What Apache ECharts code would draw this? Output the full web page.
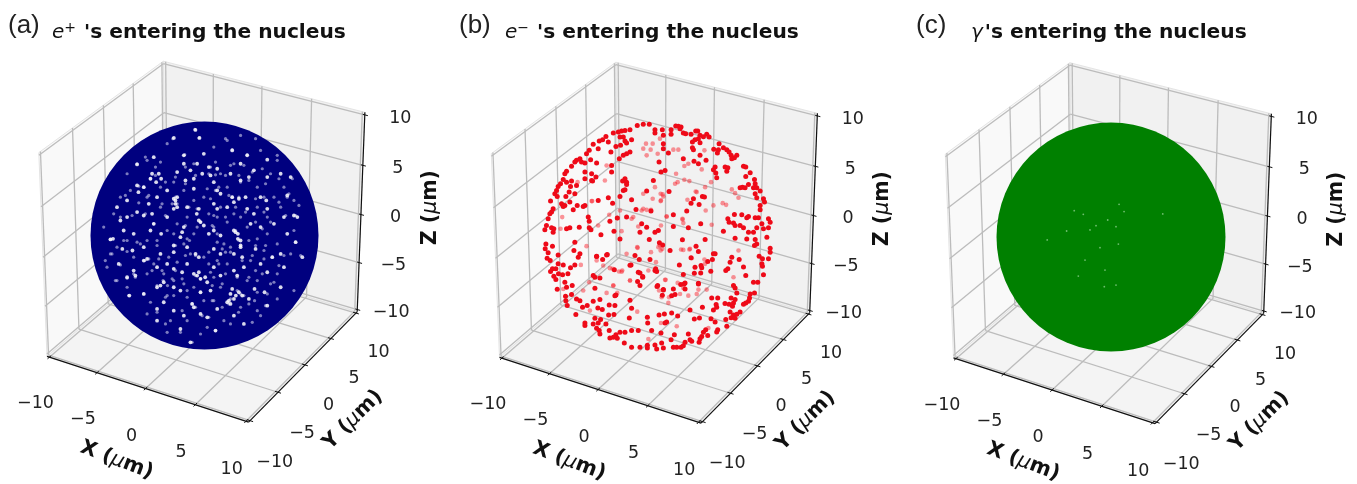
<!DOCTYPE html>
<html><head><meta charset="utf-8">
<style>html,body{margin:0;padding:0;background:#fff}#c{width:1357px;height:484px;filter:blur(0.35px)}</style>
<script src="https://cdn.jsdelivr.net/npm/echarts@6/dist/echarts.min.js"></script>
</head><body><div id="c"></div>
<script>
// ---- values (view-plane offsets from the sphere centre, in µm) ----
const tickValues = [-10, -5, 0, 5, 10];
const sphereCentre = [[0, 0]];
const panelTags = ['(a)', '(b)', '(c)'];
const panelTitles = ['{i|e}{s|+}{b|\'s entering the nucleus}', '{i|e}{s|−}{b|\'s entering the nucleus}', '{i|γ}{b|\'s entering the nucleus}'];

const positronGaps = [[-2.7,8.6],[-.44,8.6],[-.8,9.3],[2.44,7.5],[-1.82,7.06],[-.06,7.2],[3.76,7.06],[-4.47,6.9],[-5.94,6.26],[-1.82,6.32],[-.65,6.32],[3.18,6.32],[5.53,6.68],[.38,6.03],[1.12,5.88],[-1.24,5.74],[-4.62,5.44],[-4.03,5.44],[-3.82,5],[-4.26,4.7],[-4.76,5],[-2.41,5.59],[-.2,5.44],[.53,5.29],[2.29,5.44],[4.35,5.74],[5.53,5.15],[6.71,5.44],[-1.68,4.85],[-.94,5],[.82,4.7],[3.18,4.85],[3.91,5.15],[7.59,5.15],[-5.94,4.41],[-5.35,4.26],[-5.82,3.82],[-3.29,3.97],[-.94,4.12],[1.12,3.97],[1.41,3.68],[2.44,3.38],[3.03,3.24],[3.62,3.38],[4.94,3.38],[5.44,3.09],[7.29,3.53],[-2.71,3.24],[-2.41,3.38],[-2.56,2.79],[-4.18,3.38],[-6.82,3.09],[-7.71,2.5],[-4.91,2.79],[-4.62,1.91],[-5.35,1.76],[-5.94,2.06],[-2.71,2.35],[-1.53,2.5],[-.5,2.35],[-.68,1.91],[.82,2.79],[1.12,2.35],[2,2.5],[2.59,2.94],[3.76,2.35],[4.35,1.91],[5.53,2.35],[7,1.62],[7.88,1.76],[8.18,1.62],[-7.41,1.32],[-6.82,1.62],[-3.29,1.62],[-.35,1.18],[-.06,.88],[-.5,1.32],[-1.82,.74],[-1.97,.29],[-2.12,-.15],[-4.47,1.03],[-4.76,.44],[-3.82,.15],[-6.24,.15],[-7.12,.44],[-8.29,-.35],[-8.06,-.29],[.82,.44],[.38,.15],[2.59,.44],[2.94,.15],[3.18,-.44],[4.94,.74],[6.12,1.03],[7.29,.15],[8.03,-.59],[4.06,1.03],[1.41,0],[-7.24,-1.18],[-6.35,-1.32],[-5.35,-1.03],[-5.06,-2.06],[-5.35,-2.21],[-3.88,-1.62],[-2.71,-.88],[-2.71,-1.47],[-1.53,-1.03],[-.79,-1.62],[-.5,-1.91],[.82,-1.18],[1.41,-1.62],[2.59,-1.62],[3.18,-.88],[3.32,-1.91],[4.5,-1.18],[5.97,-1.91],[6.71,-1.62],[8.62,-1.91],[-7.56,-2.5],[-6.24,-3.09],[-6.09,-3.53],[-6.82,-3.68],[-4.18,-2.79],[-3.29,-2.5],[-2.71,-2.94],[-1.53,-2.5],[-1.97,-3.24],[-.65,-3.53],[-.94,-3.38],[-.35,-3.82],[.82,-2.79],[1.41,-3.53],[2.59,-3.09],[2.88,-3.53],[3.47,-2.79],[4.94,-2.5],[5.53,-3.24],[7,-2.79],[-4.18,-4.56],[-3.59,-4.12],[-3.88,-4.41],[-2.71,-4.56],[-2.12,-4.85],[-.35,-5],[.53,-4.85],[3.03,-5],[3.32,-5.29],[2.44,-4.71],[4.41,-4.71],[5.29,-5],[6.71,-4.56],[-5.35,-5.15],[-6.62,-5.29],[2.15,-5.74],[2.29,-6.03],[3.91,-5.59],[-.94,-6.32],[-.35,-6.91],[.24,-7.21],[-1.09,-6.03],[-4.18,-6.47],[-3.59,-5.88],[-2.71,-6.62],[1.12,-6.47],[5.53,-6.18],[-1.82,-7.06],[2.59,-7.06],[.97,-8.38],[-1.24,-9.41],[-2.12,-8.24],[3.47,-7.79],[-4.18,-7.5],
[-2.56,3.09],[-2.41,2.5],[2.74,.29],[2.94,-.29],[3.18,-1.03],[-.5,-3.24],[.06,-3.68],[.24,-4.12],[2.29,-5.15],[2.76,-5.29],[2,-5.88],[2.59,-5.59]];

const positronFaintGaps = [[-2.79,8.53],[-.5,8.59],[-.85,9.35],[-1.74,7.12],[-1.68,6.03],[-.94,6.32],[-5.94,6.32],[-4.32,5.29],[-4.76,5],[-5.79,4.35],[-5.35,4.26],[-2.56,3.38],[-2.41,2.79],[-2.85,2.79],[-4.91,3.53],[-5.21,1.91],[-3.74,2.79],[-6.38,1.76],[-7.41,1.62],[-1.68,.88],[-.35,1.18],[-4.47,1.03],[-3.44,1.76],[-1.38,2.5],[-.65,2.35],[-6.97,3.53],[-5.79,2.88],[-2.56,5.15],[-3.44,4.71],[-4.32,6.03],[-5.21,6.91],[-3.88,6.47],[-.79,5.29],[-1.68,4.56],
[2.44,7.56],[3.76,7.12],[1.85,8.53],[.97,6.47],[.53,6.03],[.38,5.44],[.97,5.35],[3.03,5.29],[4.21,5.59],[5.09,5.88],[5.82,5.44],[6.56,5],[7.44,3.68],[7.29,3.38],[8.32,2.65],[8.03,1.76],[5.24,3.38],[4.5,3.24],[3.91,4.85],[3.18,4.71],[2.44,3.38],[3.03,3.38],[2.15,3.53],[.97,3.97],[1.26,4.26],[.53,3.24],[1.41,2.5],[2.74,2.5],[3.62,2.06],[5.24,2.06],[5.82,1.18],[7.15,1.76],[4.5,1.18],[2.74,.44],[.82,1.76],[.68,.88],[2,1.18],[3.76,.74],[5.09,.59],[6.56,2.94],[6.41,7.06],[4.5,8.53],[3.18,8.82],[5.38,4.56],[7.74,5],[1.85,5.29],[2.29,6.18],[3.47,6.18],
[-8.29,-.35],[-7.12,-.44],[-5.65,-.74],[-4.18,-.88],[-2.56,-.88],[-1.32,-.44],[-5.26,-2.21],[-4.91,-2.06],[-7.41,-2.59],[-6.82,-1.41],[-6.24,-3.38],[-6.09,-3.68],[-6.82,-3.76],[-3.74,-3.09],[-2.56,-3.09],[-3.65,-3.97],[-2.85,-3.82],[-4.18,-4.41],[-3.26,-4.41],[-1.97,-3.82],[-.79,-3.53],[-.35,-3.82],[-1.09,-6.03],[-.79,-6.32],[-2.71,-5.29],[-3.44,-5.44],[-4.18,-6.76],[-3.44,-7.79],[-1.53,-7.5],[-6.68,-5.29],[-5.35,-5.15],[-8.15,-1.62],[-8.74,-2.21],[-7.85,-3.97],[-1.68,-1.76],[-3.15,-1.91],[-4.03,-2.06],[-2.41,-2.35],[-.79,-1.76],[-4.62,-3.09],[-1.53,-4.85],[-.35,-5],[-1.97,-6.62],[-.21,-7.06],[-2.12,-8.53],[-1.09,-9.41],[-3.29,-8.53],
[8.03,-.59],[.38,-1.47],[1.56,-1.18],[2.29,-1.47],[3.03,-.44],[4.21,-1.76],[5.97,-1.91],[5.24,-2.06],[3.32,-2.21],[2.88,-3.68],[3.18,-5.15],[2.88,-4.85],[3.47,-5.29],[2.29,-5.59],[2.15,-6.03],[.82,-3.68],[1.26,-2.5],[.53,-3.24],[1.85,-3.38],[3.91,-3.68],[5.09,-3.38],[6.56,-2.65],[7.88,-4.85],[.38,-7.21],[.97,-8.38],[2.29,-7.79],[4.21,-7.65],[.68,-4.41],[1.56,-4.26],[3.91,-6.03],[5.38,-6.18],[3,-6.76],[1.56,-6.32],[.68,-5.74],[4.65,-5],[6.12,-4.12],[7,-1.76],[8.47,-1.76],[5.38,-.88],[4.5,-.88],[6.41,-5.59],[4.94,-7.06],[1.85,-1.47],[1.12,-.59],
[.82,.74],[1.12,.15],[-.65,.74],[-.94,.15],[-1.53,-.29],[-1.82,-.74],[-1.24,-1.62],[-.06,-1.91],[.38,-2.5],[1.12,-2.21],[2,-2.5],[2.29,-1.03],[1.71,-.74],[3.91,-.44],[4.65,-.29],[5.53,.15],[6.41,-.74],[5.24,-1.32],[4.06,-2.21],[4.5,-3.09],[3.76,-3.97],[4.65,-3.97],[5.82,-4.26],[6.41,-3.38],[7.59,-1.62],[7.88,.44],[6.71,2.5],[5.53,1.62],[4.65,2.5],[3.18,1.62],[2.59,1.91],[1.85,1.62],[1.12,1.62],[.38,1.91],[-1.53,1.62],[-2.41,1.03],[-3.29,.44],[-2.71,.15],[-4.18,-.44],[-5.06,-.44],[-5.94,-.59],[-6.82,-.44],[-7.71,-1.03],[-8.29,-1.62],[-6.24,-1.91],[-4.47,-2.5],[-5.06,-3.38],[-3.59,-3.38],[-2.71,-3.97],[-1.82,-4.26],[-.94,-4.56],[-.06,-5.74],[.82,-5.74],[-1.53,-5.44],[-3.29,-5.29],[-4.76,-5.88],[1.41,-4.56],[4.41,-5.74],[5.53,-5.15],[4.65,-6.62],[3.18,-6.32],[.24,-8.09],[1.71,-7.5],[-.35,-8.68],[-3,-7.5],[-5.06,-6.91],[-6.82,-4.56],[-7.71,-3.97],[-8.59,-2.79],[-8.88,.74],[-8,1.91],[-7.41,3.38],[-6.53,3.97],[-5.06,3.38],[-3.88,2.5],[-3.88,4.26],[-2.71,4.71],[-1.82,3.97],[-.06,3.38],[-.94,3.09],[.24,4.12],[2,4.26],[1.41,5.44],[2.59,6.32],[4.65,4.26],[6.12,3.38],[7.88,3.09],[7,4.26],[6.41,6.62],[4.94,7.5],[2,8.38],[.82,7.79],[-3.29,8.09],[-5.06,6.62],[-6.82,5.44]];

const electronsFront = [[-1.74,9.79],[-1.21,9.88],[-.68,9.88],[-2.38,9.41],[-2.82,9.35],[-3.12,9.29],[-3.41,9.21],[-3.85,9.12],[-4.5,8.82],[-4.79,8.53],[-5.09,8.41],[-5.62,8.12],[-5.97,7.59],[-5.18,7.74],[-6.21,7.29],[-6.79,6.85],[-7.09,6.71],[-7.24,6.56],[-6.65,6.56],[-6.35,6.47],[-5.85,6.76],[-5.32,6.47],[-7.53,6.18],[-7.97,5.74],[-8.12,5.53],[-6.35,5.68],[-8.26,5.03],[-8.5,4.65],[-8.71,4.41],[-8.85,4.06],[-9,3.76],[-7.97,4.79],[-7.53,4.88],[-7.62,4.41],[-7.74,3.91],[-8.03,3.53],[-8.79,3.53],[-9.38,3.12],[-7.24,3.76],[-7.09,4.5],[-6.35,5.09],[-5.68,4.88],[-5.38,5.24],[-5.76,5.53],[-4,6.26],[-4,5.68],[-3.32,6.85],[-3.21,8.03],[-3.62,7.94],[-4.29,8.32],[-3.26,8.76],[-2.97,8.76],[-2.82,8.41],[-2.24,8.53],[-2.68,8.24],[-2.38,7.44],[-2.68,7.29],[-2.97,7.15],[-4.06,7.44],[-2.82,5.09],[-3.03,4.88],[-2.68,4.79],[-2.68,4.59],[-3.26,3.53],[-2.97,4.06],[-4.29,3.41],[-5.18,3.18],[-3.91,2.94],[-2.24,3.24],[-.91,4],[-.32,4.94],[-1.85,2.38],[-.53,2.24],[-3.5,1.62],[-2.68,1.71],[-1.35,1.12],[-.91,.82],[-9.15,2.44],[-9.29,2.15],[-9.44,2],[-9.59,1.56],[-9.74,.97],[-9.88,.59],[-9.29,.76],[-9.09,.68],[-9.15,.38],[-7.97,.68],[-7.68,.76],[-6.85,.82],[-5.97,.76],[-5.82,.59],[-6.06,1.71],[-5.97,1.35],[-4.15,1.35],[-3.79,.47],[-6.35,2.74],[-6.5,2.65],[-7.03,2.74],[-7.38,2.35],[-8.12,2.74],[-8.41,2.88],[-8.26,2.65],[-7.68,3.03],
[1.65,9.74],[1.88,9.71],[2.12,9.65],[2.03,9.5],[1.24,9.41],[.56,8.91],[1.24,9],[-.18,9.41],[-.18,9.12],[.47,9.41],[2.32,9.12],[2.53,9.06],[3,9],[3.41,9.29],[3.59,9.29],[3.79,8.91],[4.09,8.79],[4.38,9],[4.59,8.76],[3.65,8.62],[3.35,8.53],[3.12,8.32],[3.79,8.26],[5.47,8.18],[5.85,7.82],[6.15,7.65],[5,7.68],[5.41,7.65],[6.35,7.44],[6.53,7.15],[7.03,7.15],[6.82,6.94],[6.59,6.85],[3.12,7.82],[3.21,7.65],[3.79,7.15],[5.32,7.35],[.56,8.18],[.56,7.74],[1,7.35],[2.32,6.85],[3.26,6.62],[3.65,6.41],[4.32,6.71],[.18,6.56],[5.12,6.12],[4.97,5.88],[6,6.12],[6.24,6.06],[6.15,5.74],[5.18,5.59],[5.26,5.18],[7.62,6.18],[7.82,6.12],[8.21,5.62],[7.82,5.29],[8.59,5.03],[8.65,4.65],[8.06,4.59],[7.53,4.35],[7.32,4.29],[7.76,4.29],[8.5,4.29],[8.79,4.29],[9.09,4],[8.65,3.76],[8.79,3.41],[9.38,3.32],[9.47,3.03],[9.09,2.74],[9.09,2.35],[.35,5.68],[.71,5.82],[1.06,3.97],[3.21,3.32],[3,2.94],[3.71,2.82],[4,3.53],[4.18,3.47],[2.62,2.24],[1.44,1.91],[6.24,1.56],[6.35,1.26],[6.82,1.94],[7.47,1.91],[8.06,1.76],[7.91,1.65],[8.65,1.65],[8.94,1.65],[9.82,1.56],[9.97,1.26],[9.24,1.12],[9.82,.76],[6.74,1.18],[6.88,.97],[7.32,.97],[7.62,.76],[8.06,.38],[8.5,.38],[8.79,.76],[9.38,.68],[5.85,.47],[3.85,1.12],[2.76,.76],[1.44,.88],[.12,.53],[-.18,.38],
[-9.79,-.65],[-9.21,-.85],[-9.85,-1.09],[-9.59,-1.44],[-9.68,-1.91],[-9.41,-2.12],[-8.71,-1.62],[-7.24,-.5],[-7.32,-1.24],[-6.79,-1.53],[-6.94,-1.82],[-5.32,-1.74],[-4.44,-1.62],[-4.79,-2.03],[-3.26,-.21],[-.68,-.26],[-8.71,-2.41],[-8.26,-2.5],[-7.24,-2.5],[-7.62,-2.76],[-9.21,-2.85],[-9.38,-3.09],[-8.91,-2.85],[-8.68,-3.29],[-8.32,-3.38],[-7.85,-3.29],[-9.09,-3.5],[-8.91,-3.79],[-5.62,-3.44],[-5.47,-3.59],[-5.03,-3.65],[-8.12,-4.03],[-7.97,-4.47],[-8.79,-4.65],[-7.47,-4.32],[-5.47,-4.56],[-8.06,-5.26],[-7.53,-5.12],[-7.09,-5.5],[-5.03,-5.56],[-8.03,-5.65],[-7.91,-6.09],[-6.79,-5.65],[-5.62,-5.71],[-3.62,-5.15],[-3.71,-5.21],[-2.38,-5.62],[-4.21,-6.03],[-3.71,-6.09],[-6.56,-6.24],[-6.15,-6.09],[-5.21,-6.29],[-4.82,-6.44],[-2.24,-6.32],[-4.26,-6.91],[-7.15,-6.88],[-5.47,-7.21],[-4.97,-7.32],[-3.79,-6.88],[-2.44,-7.18],[-.85,-7.12],[-6.35,-7.62],[-6.35,-7.85],[-5.62,-7.71],[-5.18,-7.62],[-4.5,-7.71],[-5.32,-8.09],[-5.09,-8.29],[-5.03,-8.59],[-4.21,-8.29],[-3.26,-8.44],[-2.82,-8.44],[-2.24,-8.29],[-1.65,-8.29],[-.82,-7.62],[-.47,-8.29],[-3.62,-8.65],[-3.85,-8.88],[-3.5,-8.97],[-4.15,-8.94],[-2.88,-9.38],[-2.24,-9.76],[-1.5,-9.76],[-.85,-9.59],[-.85,-9.82],[-2.29,-2.5],[-2.38,-2.53],[-1.5,-3.21],[-1.71,-3.97],[-1.5,-4.32],[-1.26,-3.59],[-1.94,-1.68],[-1.56,-2.03],[-.62,-2.03],
[2.24,-.29],[4.24,-.26],[6.88,-.15],[7.91,-.21],[8.65,-.26],[9.68,-.06],[9.97,-1.03],[9.97,-1.38],[8.59,-.79],[8.79,-.65],[1.15,-1.24],[3.44,-.85],[3.65,-1.32],[3,-1.88],[4.97,-1.53],[4.88,-2.03],[4.47,-2.21],[6.59,-1.82],[6.44,-2.26],[7.24,-2.03],[9,-1.74],[9.29,-1.97],[9.82,-1.97],[9.24,-2.41],[9.29,-2.62],[3.35,-2.71],[3.88,-2.56],[3.85,-3.21],[3.29,-3.24],[2.32,-3.35],[6.24,-2.85],[6.06,-3],[7.62,-2.68],[7.82,-3.44],[9.38,-3.38],[8.5,-4.03],[8.88,-4.03],[6.74,-4.32],[6.88,-4.53],[-.18,-3],[-.03,-3.09],[3.65,-4.18],[2.47,-4.09],[.06,-4.32],[.56,-4.71],[1.59,-5.12],[.47,-5.18],[4.82,-5.41],[5.35,-5.41],[6.53,-5.41],[7.03,-4.97],[8.59,-4.97],[8.21,-5.06],[8.15,-5.41],[8.06,-5.71],[7.82,-5.85],[7.62,-5.97],[6.88,-5.56],[6.74,-5.85],[6.65,-6.15],[6.35,-5.97],[5.99,-5.91],[5.21,-5.99],[5.26,-6.24],[4,-6.24],[4.97,-6.47],[6.44,-6.65],[6.74,-6.91],[7.03,-6.85],[7.32,-6.65],[6.53,-7.15],[6.88,-7.21],[6.06,-7.32],[4.76,-7.24],[5.12,-7.53],[2.91,-6.47],[3.74,-7.18],[3.29,-7.26],[1.82,-7],[1.29,-6.74],[.18,-6.91],[.65,-6.82],[.85,-7.53],[.71,-7.62],[6.15,-7.9],[5.35,-8.21],[5.26,-8.41],[4.29,-8.21],[4.09,-8.44],[4.47,-8.73],[3.94,-8.82],[3.79,-9],[3.71,-9.32],[2.91,-9.09],[3.06,-9.24],[2.47,-9.32],[2.32,-9.62],[2.12,-9.76],[1.74,-9.76],[1.44,-9.76],[1.53,-8.65],[2.76,-8.59],[.35,-8.5],[.41,-9.38],[1.24,-9.09],[-.18,-9.56],[-.03,-9.91],[.56,-9.82],
[-1.5,.38],[.21,-.56],[.5,-.74],[5.12,-1.53],[1.97,-2.5],[3.94,-2.76],[4.74,-3.06],[-4.94,.15],[-5.32,-1.76],[-4.38,-1.59],[-3.76,-2.94],[-1.65,-3.15],[-1.26,-3.53],[-.12,-2.85],[0,-4.41],[.56,-4.68],[1.44,-4.62],[2.09,-4.24],[2.38,-4.18],[2.47,-4.62],[1.29,-5.21],[3.65,-4.12],[-5.76,4.94],[-2.82,4.12]];

const electronsBack = [[-.97,8.18],[-1.21,7.74],[-.56,7.65],[-.91,7.15],[-.38,8.18],[-5.71,3.12],[-.91,2.35],[-1.35,2.29],[-2.24,1.56],[-1.65,.88],[-3.26,2.29],[-4.59,4.94],[-7,4.79],[-8.35,1.71],[-8.5,.68],[-5.18,.97],[-3.12,.47],[-4.44,6.26],
[.26,8.62],[.06,7.29],[1.44,7.65],[1.88,7.65],[2.76,6.41],[2.41,6.21],[3.94,5.91],[4.18,7.59],[1.68,5.53],[2.41,5],[2.85,4.88],[1.82,4.79],[4.76,4.79],[4.24,4.35],[3.41,3.97],[.32,3.76],[.56,3.53],[.35,3.18],[2.68,3.24],[6.59,4.15],[6.88,3.82],[7.18,3.41],[5.79,2.94],[6.09,2.79],[4.29,2.29],[.85,1.76],[2.24,1.56],[2.32,1.18],[4.82,1.03],[.35,.97],
[-6.21,-.85],[-5.32,-2.12],[-6.71,-2.5],[-3.91,-2.85],[-3.12,-3.1],[-8.26,-4.62],[-5.97,-4.03],[-3.85,-4.32],[-4.44,-4.97],[-6.5,-4.76],[-2.38,-3.88],[-1.74,-6.62],[-5.91,-6.53],[-2.68,-1.53],[-1.74,-.94],[-4.15,-2.79],[-3.5,-4.97],[-.76,-9.03],
[.26,-.79],[.47,-1.09],[2.12,-1.15],[2.85,-1.15],[4.18,-2.03],[7.18,-1.24],[4.24,-2.41],[.76,-3.82],[1.82,-4.09],[2.32,-4.53],[3.65,-4.68],[4.38,-4.68],[6.74,-3.59],[1.06,-5.35],[1,-5.85],[2.76,-5.21],[3.5,-5.06],[1.74,-7.91],[.35,-7.62],[4.53,-8.06],[.18,-4.76],[-.09,-2.26],
[-.18,4.35],[-1.21,3.76],[.5,3.71],[.32,3.12],[-.38,3.32],[-1.21,2.44],[-.53,2.35],[-2.09,1.71],[-3.47,1.62],[-4.21,1.91],[-5.76,3.12],[.85,1.76],[2.26,1.5],[1.59,4.65],[3.5,3.91],[4.97,2.74],[-1.71,-1],[-.53,-1.38],[.12,-.94],[.32,-1.24],[2.32,-1.18],[2.91,-1.09],[3.06,-1.91],[-4.74,-2.56],[-3.35,-3.09],[-3.06,-3],[-.76,-3],[-2.38,-3.88],[-3.85,-4.32],[2.03,-5.06],[.41,-5.35],[.71,-3.82]];

const photonGaps = [[-.29,1.5],[-2.44,2],[4.56,2.03],[.71,2.88],[-1.32,1],[.65,-.62],[-.97,-.94],[.44,-4.24],[-2.88,-3.44],[-3.91,.53],[-5.62,-.26],[-1.85,.62],[-3.24,2.32],[-2.29,-2.03],[-.59,-4.38],[-.53,-2.91],[1.15,2.24],[.44,.91]];

// ---- camera of the 3D axes box ----
const L = 10.25, DIST = 20, PX = 11.35;          // half box (µm), camera distance (half boxes), px per µm
const ELEV = 30 * Math.PI / 180, AZIM = -60 * Math.PI / 180;
const R = [-Math.sin(AZIM), Math.cos(AZIM), 0];
const T = [Math.cos(ELEV) * Math.cos(AZIM), Math.cos(ELEV) * Math.sin(AZIM), Math.sin(ELEV)];
const U = [-Math.sin(ELEV) * Math.cos(AZIM), -Math.sin(ELEV) * Math.sin(AZIM), Math.cos(ELEV)];
const dot = (a, b) => a[0] * b[0] + a[1] * b[1] + a[2] * b[2];
function project(p) {
  const f = DIST / (DIST - dot(p, T) / L);
  return [dot(p, R) * f, dot(p, U) * f];
}

const panels = [
  { cx: 204.5, cy: 235.5, tagX: 3,   titleX: 47,  gap: 8 },
  { cx: 657,   cy: 236.5, tagX: 454, titleX: 500, gap: 8 },
  { cx: 1111,  cy: 237,   tagX: 911, titleX: 966, gap: 2 }
];
const HALF_W = 204;
const tickFont = '17.5px "DejaVu Sans"';
const GRID = '#bcbcbc';

function renderBox(params, api) {
  const pt = p => api.coord(project(p));
  const kids = [];
  const poly = (pts, fill) => kids.push({ type: 'polygon', shape: { points: pts.map(pt) }, style: { fill, stroke: '#e4e4e4', lineWidth: 1 } });
  const line = (a, b, stroke, w) => { const A = pt(a), B = pt(b); kids.push({ type: 'line', shape: { x1: A[0], y1: A[1], x2: B[0], y2: B[1] }, style: { stroke, lineWidth: w } }); };
  poly([[-L,-L,-L],[-L,L,-L],[-L,L,L],[-L,-L,L]], '#f9f9f9');
  poly([[-L,L,-L],[L,L,-L],[L,L,L],[-L,L,L]], '#f1f1f1');
  poly([[-L,-L,-L],[L,-L,-L],[L,L,-L],[-L,L,-L]], '#f4f4f4');
  tickValues.forEach(v => {
    line([-L,v,-L],[-L,v,L],GRID,1.3);
    line([-L,-L,v],[-L,L,v],GRID,1.3);
    line([v,L,-L],[v,L,L],GRID,1.3);
    line([-L,L,v],[L,L,v],GRID,1.3);
    line([v,-L,-L],[v,L,-L],GRID,1.3);
    line([-L,v,-L],[L,v,-L],GRID,1.3);
  });
  line([-L,-L,-L],[L,-L,-L],'#111',1.2);
  line([L,-L,-L],[L,L,-L],'#111',1.2);
  line([L,L,-L],[L,L,L],'#111',1.2);
  tickValues.forEach(v => {
    line([v,-L+.3,-L],[v,-L-.3,-L],'#111',1);
    line([L-.3,v,-L],[L+.3,v,-L],'#111',1);
    line([L-.2,L,v],[L+.3,L,v],'#111',1);
  });
  return { type: 'group', children: kids };
}
function renderLabels(params, api) {
  const kids = [];
  const text = (p, s) => { const c = api.coord(project(p)); kids.push({ type: 'text', x: c[0], y: c[1], style: { text: s, font: tickFont, fill: '#222', align: 'center', verticalAlign: 'middle' } }); };
  const fmt = v => String(v).replace('-', '−');
  tickValues.forEach(v => {
    text([v,-12.7,-13.8], fmt(v));
    text([12.7,v,-13.75], fmt(v));
    text([12.95,11.8,v-.3], fmt(v));
  });
  const name = (p, ch, rot) => {
    const c = api.coord(project(p));
    kids.push({ type: 'text', x: c[0], y: c[1], rotation: rot, style: {
      text: '{b|' + ch + ' (}{i|μ}{b|m)}', align: 'center', verticalAlign: 'middle',
      rich: { b: { font: 'bold 20.5px "DejaVu Sans"', fill: '#111' }, i: { font: 'italic 20.5px "DejaVu Sans"', fill: '#111' } }
    } });
  };
  name([0,-15.15,-14.85], 'X', -0.36);
  name([15.15,0,-14.45], 'Y', 0.785);
  name([15.1,14.5,0], 'Z', Math.PI / 2);
  return { type: 'group', children: kids };
}

const grids = [], xAxes = [], yAxes = [], series = [], titles = [];
const marks = [
  [{ data: sphereCentre, size: 228, color: '#00007f' }, { data: positronFaintGaps, size: 3.2, color: 'rgba(225,225,245,.55)' }, { data: positronGaps, size: 3.8, color: 'rgba(255,255,255,.85)' }],
  [{ data: electronsBack, size: 4.6, color: 'rgba(250,20,30,.45)' }, { data: electronsFront, size: 5, color: '#ee0a18' }],
  [{ data: sphereCentre, size: 229, color: '#008000' }, { data: photonGaps, size: 1.8, color: 'rgba(200,240,200,.55)' }]
];
panels.forEach((p, i) => {
  grids.push({ left: p.cx - HALF_W, width: 2 * HALF_W, top: 0, height: 484, show: false });
  xAxes.push({ type: 'value', gridIndex: i, show: false, min: -HALF_W / PX, max: HALF_W / PX });
  yAxes.push({ type: 'value', gridIndex: i, show: false, min: -(484 - p.cy) / PX, max: p.cy / PX });
  const base = { coordinateSystem: 'cartesian2d', xAxisIndex: i, yAxisIndex: i, silent: true, animation: false };
  series.push(Object.assign({ type: 'custom', data: [[0, 0]], renderItem: renderBox, clip: false, z: 1 }, base));
  series.push(Object.assign({ type: 'custom', data: [[0, 0]], renderItem: renderLabels, clip: false, z: 1 }, base));
  marks[i].forEach((m, k) => series.push(Object.assign({
    type: 'scatter', data: m.data, symbol: 'circle', symbolSize: m.size, large: false, z: 2 + k,
    itemStyle: { color: m.color, opacity: 1 }, emphasis: { disabled: true }
  }, base)));
  titles.push({ left: p.tagX, top: 8, text: panelTags[i], textStyle: { fontFamily: '"Liberation Sans"', fontSize: 26, fontWeight: 'normal', color: '#222' } });
  titles.push({ left: p.titleX, top: 16, text: panelTitles[i], textStyle: { rich: {
    i: { fontFamily: '"DejaVu Sans"', fontStyle: 'italic', fontWeight: 'normal', fontSize: 20, color: '#111', lineHeight: 24 },
    s: { fontFamily: '"DejaVu Sans"', fontWeight: 'normal', fontSize: 14, color: '#111', lineHeight: 14, verticalAlign: 'top' },
    b: { fontFamily: '"DejaVu Sans"', fontWeight: 'bold', fontSize: 20.2, color: '#111', lineHeight: 24, padding: [0, 0, 0, p.gap] } } } });
});
const chart = echarts.init(document.getElementById('c'), null, { renderer: 'canvas', width: 1357, height: 484 });
chart.setOption({ animation: false, backgroundColor: '#fff', title: titles, grid: grids, xAxis: xAxes, yAxis: yAxes, series, tooltip: { show: false } });
</script></body></html>
